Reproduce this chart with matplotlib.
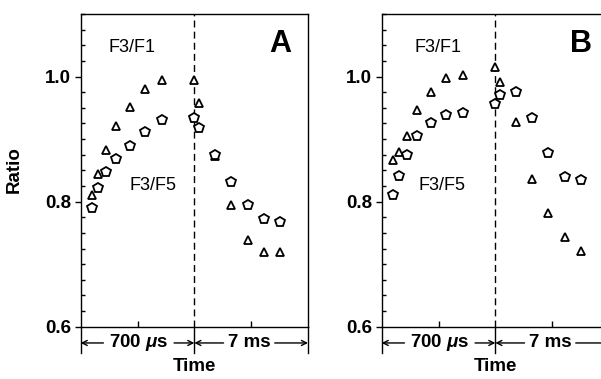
import numpy as np
import matplotlib.pyplot as plt
import matplotlib.transforms as mtransforms
from matplotlib.ticker import MultipleLocator, FixedLocator

plt.rcParams['font.family'] = ['Liberation Sans', 'DejaVu Sans']
plt.rcParams['mathtext.fontset'] = 'custom'
plt.rcParams['mathtext.rm'] = 'Liberation Sans:bold'
plt.rcParams['mathtext.it'] = 'Liberation Sans:italic:bold'

# --- DATA
# early phase in microseconds, late phase in milliseconds
t_early_us = [70, 107, 157, 216, 301, 398, 502]
t_late_ms_a = [0, 0.3, 1.25, 2.27, 3.3, 4.3, 5.25]
t_late_ms_b = [0, 0.27, 1.25, 2.25, 3.25, 4.28, 5.28]

a_f1_early = [0.811, 0.844, 0.882, 0.921, 0.952, 0.980, 0.995]
a_f1_late = [0.995, 0.957, 0.873, 0.794, 0.739, 0.720, 0.720]
a_f5_early = [0.790, 0.821, 0.848, 0.868, 0.889, 0.912, 0.931]
a_f5_late = [0.933, 0.917, 0.874, 0.832, 0.794, 0.772, 0.767]

b_f1_early = [0.867, 0.879, 0.905, 0.946, 0.976, 0.997, 1.002]
b_f1_late = [1.015, 0.991, 0.927, 0.836, 0.782, 0.744, 0.721]
b_f5_early = [0.811, 0.841, 0.874, 0.905, 0.926, 0.938, 0.942]
b_f5_late = [0.956, 0.970, 0.975, 0.934, 0.878, 0.840, 0.834]

EARLY_SPAN = 700  # us
MS_SCALE = 100    # axis units per ms in the late phase

FS = 13.5
WT = 'bold'


def to_axis(t_early, t_late):
    x1 = np.array(t_early, dtype=float)
    x2 = EARLY_SPAN + np.array(t_late, dtype=float) * MS_SCALE
    return np.concatenate([x1, x2])


def panel(ax, t_late, f1, f5, letter, f1_pos, f5_pos):
    x = to_axis(t_early_us, t_late)
    ax.plot(x, f1, linestyle='none', marker='^', ms=6.2, mfc='white',
            mec='black', mew=1.3, zorder=3)
    ax.plot(x, f5, linestyle='none', marker='p', ms=7.3, mfc='white',
            mec='black', mew=1.3, zorder=3)

    ax.set_xlim(0, 2 * EARLY_SPAN)
    ax.set_ylim(0.6, 1.1)
    ax.axvline(EARLY_SPAN, color='black', lw=1.0, ls=(0, (5, 3)), zorder=1)

    for s in ax.spines.values():
        s.set_linewidth(1.0)

    ax.yaxis.set_major_locator(FixedLocator([0.6, 0.8, 1.0]))
    ax.yaxis.set_minor_locator(MultipleLocator(0.025))
    ax.set_yticklabels(['0.6', '0.8', '1.0'], fontweight=WT)
    ax.tick_params(axis='y', which='major', direction='out', length=4,
                   width=1.0, labelsize=FS, pad=3)
    ax.tick_params(axis='y', which='minor', direction='in', length=3,
                   width=1.0)
    ax.xaxis.set_major_locator(FixedLocator([350, 1050]))
    ax.tick_params(axis='x', which='major', direction='in', length=4,
                   width=1.0, labelbottom=False)

    ax.text(0.5, -0.126, 'Time', transform=ax.transAxes, ha='center',
            va='center', fontsize=FS, fontweight=WT)
    ax.text(0.877, 0.904, letter, transform=ax.transAxes, ha='center',
            va='center', fontsize=22, fontweight='heavy')
    ax.text(f1_pos[0], f1_pos[1], 'F3/F1', ha='center', va='center',
            fontsize=13)
    ax.text(f5_pos[0], f5_pos[1], 'F3/F5', ha='center', va='center',
            fontsize=13)

    # time span arrows under the axis
    tr = mtransforms.blended_transform_factory(ax.transData, ax.transAxes)
    yy = -0.052
    for xb in (0, EARLY_SPAN, 2 * EARLY_SPAN):
        ax.plot([xb, xb], [0, -0.083], color='black', lw=1.0,
                transform=tr, clip_on=False)
    arrows = [(140, 0), (575, EARLY_SPAN), (880, EARLY_SPAN),
              (1195, 2 * EARLY_SPAN)]
    for x0, x1 in arrows:
        ax.annotate('', xy=(x1, yy), xytext=(x0, yy), xycoords=tr,
                    textcoords=tr, annotation_clip=False,
                    arrowprops=dict(arrowstyle='->', lw=1.0, shrinkA=0,
                                    shrinkB=0, mutation_scale=9))
    ax.text(357, yy, r'700 $\mu$s', transform=tr, ha='center',
            va='center', fontsize=FS, fontweight=WT)
    ax.text(1037, yy, '7 ms', transform=tr, ha='center', va='center',
            fontsize=FS, fontweight=WT)


fig = plt.figure(figsize=(6.01, 3.79), dpi=100)
ax_a = fig.add_axes([80.7 / 601, 52.3 / 379, 227.3 / 601, 312.7 / 379])
ax_b = fig.add_axes([381.7 / 601, 52.3 / 379, 227.3 / 601, 312.7 / 379])

panel(ax_a, t_late_ms_a, a_f1_early + a_f1_late, a_f5_early + a_f5_late,
      'A', (319, 1.046), (445, 0.825))
panel(ax_b, t_late_ms_b, b_f1_early + b_f1_late, b_f5_early + b_f5_late,
      'B', (349, 1.046), (371, 0.825))

ax_a.set_ylabel('Ratio', fontsize=FS, fontweight=WT)
ax_a.yaxis.set_label_coords(-0.256, 0.501)
ax_b.set_ylabel('')

fig.savefig('out.png', dpi=100)
